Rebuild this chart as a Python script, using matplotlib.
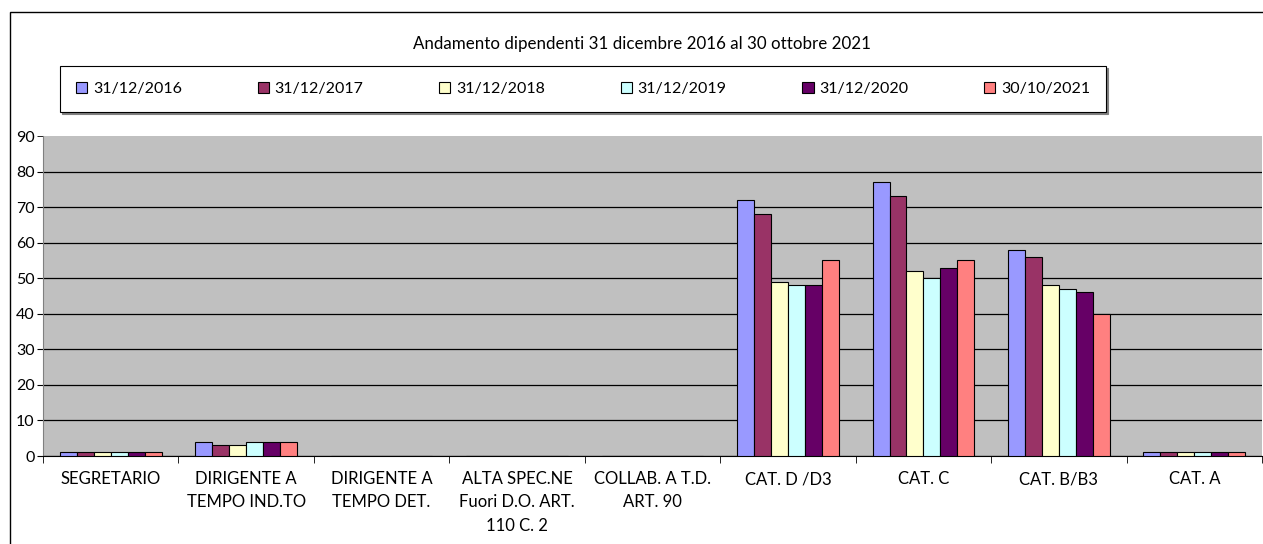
import matplotlib.pyplot as plt
import numpy as np
from matplotlib.patches import Rectangle

plt.rcParams['font.family'] = ['Lato', 'DejaVu Sans']

categories = ['SEGRETARIO', 'DIRIGENTE A\nTEMPO IND.TO', 'DIRIGENTE A\nTEMPO DET.',
              'ALTA SPEC.NE\nFuori D.O. ART.\n110 C. 2', 'COLLAB. A T.D.\nART. 90',
              'CAT. D /D3', 'CAT. C', 'CAT. B/B3', 'CAT. A']
series = ['31/12/2016', '31/12/2017', '31/12/2018', '31/12/2019', '31/12/2020', '30/10/2021']
values = [
    [1, 4, 0, 0, 0, 72, 77, 58, 1],
    [1, 3, 0, 0, 0, 68, 73, 56, 1],
    [1, 3, 0, 0, 0, 49, 52, 48, 1],
    [1, 4, 0, 0, 0, 48, 50, 47, 1],
    [1, 4, 0, 0, 0, 48, 53, 46, 1],
    [1, 4, 0, 0, 0, 55, 55, 40, 1],
]
colors = ['#9999FF', '#993366', '#FFFFCC', '#CCFFFF', '#660066', '#FF8080']

fig = plt.figure(figsize=(12.63, 5.44), dpi=100)
# outer chart frame
fig.patches.append(Rectangle((10 / 1263, -0.01), 1.02, 1 - 12 / 544 + 0.01,
                             transform=fig.transFigure, fill=False,
                             edgecolor='black', linewidth=1))

ax = fig.add_axes([43 / 1263, 1 - 456 / 544, 1219 / 1263, 320 / 544])
ax.set_facecolor('#C0C0C0')

x = np.arange(len(categories))
w = 0.125
for i, (s, vals) in enumerate(zip(series, values)):
    ax.bar(x + (i - 2.5) * w, vals, width=w, color=colors[i], edgecolor='black',
           linewidth=0.8, label=s, zorder=3)

ax.set_xlim(-0.5, len(categories) - 0.5)
ax.set_ylim(0, 90)
ax.set_yticks(range(0, 81, 10))
ax.set_yticks([90], minor=True)
ax.set_yticklabels([str(v) for v in range(0, 81, 10)])
ax.set_yticklabels(['90'], minor=True)
ax.yaxis.grid(True, which='major', color='black', linewidth=0.9, zorder=1)
ax.tick_params(axis='y', which='both', labelsize=11.5, length=4, direction='out', pad=2)
ax.set_xticks(x)
ax.set_xticklabels(categories, fontsize=12, linespacing=1.55, va='top')
ax.tick_params(axis='x', length=0, pad=11)
ax.set_xticks(np.arange(-0.5, len(categories), 1), minor=True)
ax.tick_params(axis='x', which='minor', length=5, direction='out')
for side in ['top', 'right']:
    ax.spines[side].set_visible(False)
ax.spines['left'].set_color('#808080')
ax.spines['bottom'].set_color('black')

fig.text(642 / 1263, 1 - 44 / 544, 'Andamento dipendenti 31 dicembre 2016 al 30 ottobre 2021',
         ha='center', va='center', fontsize=12.2)

leg = fig.legend(loc='center', bbox_to_anchor=(583 / 1263, 1 - 89 / 544), ncol=6,
                 fontsize=11.5, frameon=True, fancybox=False, edgecolor='black',
                 handlelength=0.7, handleheight=0.7, handletextpad=0.35,
                 columnspacing=4.75, borderpad=1.0,
                 shadow={'color': '#808080', 'alpha': 1, 'ox': 1.5, 'oy': -1.5})
leg.get_frame().set_linewidth(0.8)
leg.set_zorder(5)

plt.savefig('out.png', dpi=100)
